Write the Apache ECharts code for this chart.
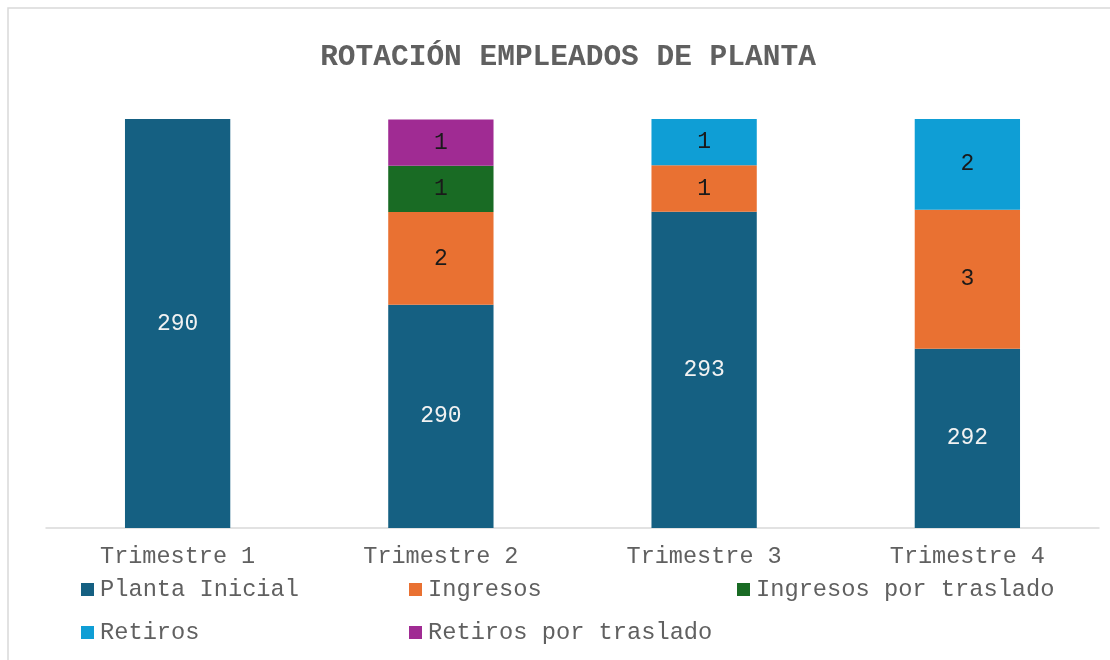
<!DOCTYPE html>
<html>
<head>
<meta charset="utf-8">
<script src="https://cdn.jsdelivr.net/npm/echarts@6/dist/echarts.min.js"></script>
<style>
  html, body { margin: 0; padding: 0; background: #fff; }
  #chart { width: 1110px; height: 660px; }
</style>
</head>
<body>
<div id="chart"></div>
<script>
// datos
var trimestres = ['Trimestre 1', 'Trimestre 2', 'Trimestre 3', 'Trimestre 4'];
var plantaInicial = [290, 290, 293, 292];          // etiqueta mostrada
var plantaInicialAltura = [8.83, 4.82, 6.83, 3.87]; // altura visible de la barra (en unidades del eje)
var ingresos = [null, 2, 1, 3];
var ingresosTraslado = [null, 1, null, null];
var retiros = [null, null, 1, 2];
var retirosTraslado = [null, 1, null, null];

var fuente = 'Liberation Mono';
var gris = '#606060';

var chart = echarts.init(document.getElementById('chart'));

function serie(nombre, datos, color, colorTexto) {
  return {
    name: nombre,
    type: 'bar',
    stack: 'total',
    barWidth: '40%',
    data: datos,
    itemStyle: { color: color },
    label: {
      show: true,
      position: 'inside',
      fontFamily: fuente,
      fontSize: 23,
      color: colorTexto
    }
  };
}

var planta = serie('Planta Inicial', plantaInicialAltura, '#156082', '#f2f2f2');
planta.label.formatter = function (p) { return plantaInicial[p.dataIndex]; };

var option = {
  animation: false,
  graphic: [{
    type: 'rect',
    shape: { x: 8, y: 8, width: 1200, height: 800 },
    style: { fill: 'none', stroke: '#d9d9d9', lineWidth: 1.5 },
    silent: true
  }],
  title: {
    text: 'ROTACIÓN EMPLEADOS DE PLANTA',
    left: 568,
    top: 43,
    padding: 0,
    textAlign: 'center',
    textStyle: { fontFamily: fuente, fontSize: 29.5, fontWeight: 'bold', color: gris }
  },
  legend: {
    left: 81,
    top: 573,
    width: 1020,
    itemWidth: 13,
    itemHeight: 13,
    itemGap: 10,
    icon: 'rect',
    padding: 0,
    textStyle: { fontFamily: fuente, fontSize: 23.7, color: gris, width: 299, lineHeight: 33, padding: [0, 0, 0, 1] },
    data: ['Planta Inicial', 'Ingresos', 'Ingresos por traslado', 'Retiros', 'Retiros por traslado']
  },
  grid: { left: 46, right: 11, top: 119, bottom: 132, containLabel: false },
  xAxis: {
    type: 'category',
    data: trimestres,
    axisLine: { lineStyle: { color: '#d9d9d9', width: 1.5 } },
    axisTick: { show: false },
    axisLabel: { fontFamily: fuente, fontSize: 23.5, color: gris, margin: 17 }
  },
  yAxis: {
    type: 'value',
    min: 0,
    max: 8.83,
    show: false
  },
  series: [
    planta,
    serie('Ingresos', ingresos, '#e97132', '#1a1a1a'),
    serie('Ingresos por traslado', ingresosTraslado, '#196b24', '#1a1a1a'),
    serie('Retiros', retiros, '#0f9ed5', '#1a1a1a'),
    serie('Retiros por traslado', retirosTraslado, '#a02b93', '#1a1a1a')
  ]
};

chart.setOption(option);
</script>
</body>
</html>
